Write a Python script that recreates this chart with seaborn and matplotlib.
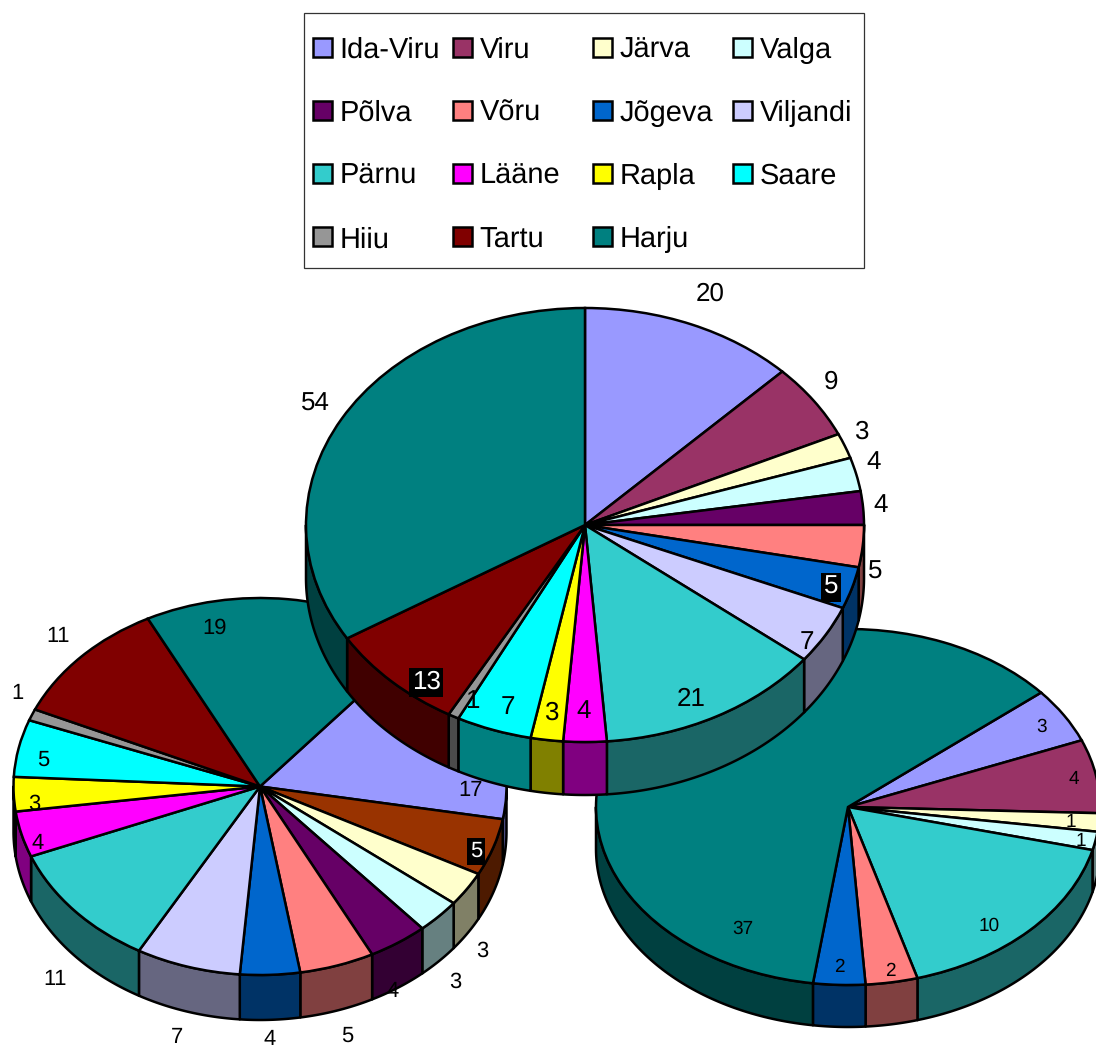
import matplotlib
matplotlib.use("Agg")
import matplotlib.pyplot as plt
from matplotlib.patches import Rectangle
import seaborn as sns
import numpy as np

sns.set_theme(style="white")
plt.rcParams["font.family"] = ["Liberation Sans", "DejaVu Sans"]
plt.rcParams["text.hinting"] = "no_hinting"
plt.rcParams["text.hinting_factor"] = 1

W, H = 1096, 1050

# legend
legend_names = ["Ida-Viru", "Viru", "Järva", "Valga",
                "Põlva", "Võru", "Jõgeva", "Viljandi",
                "Pärnu", "Lääne", "Rapla", "Saare",
                "Hiiu", "Tartu", "Harju"]
legend_colors = ["#9999ff", "#993366", "#ffffcc", "#ccffff",
                 "#660066", "#ff8080", "#0066cc", "#ccccff",
                 "#33cccc", "#ff00ff", "#ffff00", "#00ffff",
                 "#969696", "#800000", "#008080"]
color_of = dict(zip(legend_names, legend_colors))

# top pie
top_names = legend_names
top_values = [20, 9, 3, 4, 4, 5, 5, 7, 21, 4, 3, 7, 1, 13, 54]
top_label_xy = [(710, 293), (831, 381), (861, 431), (874, 461), (881, 504),
                (875, 571), (831, 586), (807, 641), (691, 698), (584, 710),
                (551, 712), (508, 706), (472, 700), (426, 681), (315, 403)]

# left pie
left_names = legend_names
left_values = [17, 5, 3, 3, 4, 5, 4, 7, 11, 4, 3, 5, 1, 11, 19]
left_label_xy = [(471, 789), (476, 850), (482, 950), (455, 981), (393, 990),
                 (347, 1035), (270, 1038), (177, 1036), (55, 978), (38, 842),
                 (34, 803), (43, 759), (17, 692), (58, 635), (215, 627)]

# right pie
right_names = ["Ida-Viru", "Viru", "Järva", "Valga", "Pärnu", "Võru", "Jõgeva", "Harju"]
right_values = [3, 4, 1, 1, 10, 2, 2, 37]
right_label_xy = [(1042, 725), (1074, 778), (1071, 821), (1081, 840),
                  (989, 924), (890, 970), (839, 966), (743, 927)]

fig = plt.figure(figsize=(W / 100, H / 100), dpi=100, facecolor="white")


def pie3d(names, values, cx, cy, rx, ry, depth, start, z, override=None):
    # one axes per pie, squashed so that the circle becomes the ellipse
    colors = [color_of[n] for n in names]
    if override:
        colors = [override.get(n, c) for n, c in zip(names, colors)]
    ax = fig.add_axes([(cx - rx) / W, 1 - (cy + ry + depth) / H,
                       2 * rx / W, (2 * ry + depth) / H], zorder=z)
    d = depth / ry

    # side wall, only the front half shows
    edges = start - np.cumsum([0] + values) / sum(values) * 360
    for i, c in enumerate(colors):
        a0, a1 = edges[i], edges[i + 1]
        # clip to the lower half of the ellipse, checking both windows
        for lo, hi in [(-180, 0), (-540, -360)]:
            s, e = min(a0, hi), max(a1, lo)
            if s <= e:
                continue
            t = np.radians(np.linspace(s, e, 80))
            xs = np.r_[np.cos(t), np.cos(t[::-1])]
            ys = np.r_[np.sin(t), np.sin(t[::-1]) - d]
            dark = tuple(0.5 * v for v in matplotlib.colors.to_rgb(c))
            ax.fill(xs, ys, facecolor=dark, edgecolor="black", lw=1.8, joinstyle="round")

    ax.pie(values, colors=colors, startangle=start, counterclock=False, radius=1,
           wedgeprops={"edgecolor": "black", "linewidth": 1.8})
    ax.set_aspect("auto")
    ax.set_xlim(-1, 1)
    ax.set_ylim(-1 - d, 1)
    ax.axis("off")
    for p in ax.patches:
        p.set_clip_on(False)
    return ax


pie3d(left_names, left_values, 260, 786.5, 246.5, 188.5, 45, 50, 1, {"Viru": "#993300"})
pie3d(right_names, right_values, 848, 807, 252, 178, 42, 40, 2)
pie3d(top_names, top_values, 585, 525, 279, 217, 53, 90, 3)

# overlay in pixels for the legend box and the value labels
ov = fig.add_axes([0, 0, 1, 1], zorder=10)
ov.set_xlim(0, W)
ov.set_ylim(H, 0)
ov.axis("off")
ov.patch.set_alpha(0)

ov.add_patch(Rectangle((304, 13), 560, 255, fc="white", ec="#333333", lw=0.9))
for i, (name, c) in enumerate(zip(legend_names, legend_colors)):
    col, row = i % 4, i // 4
    x = 313 + 140 * col
    y = 47 + 63.3 * row
    ov.add_patch(Rectangle((x, y - 9.5), 19, 19, fc=c, ec="black", lw=1.8))
    ov.text(x + 26.5, y + 10.5, name, fontsize=21, color="black", ha="left", va="baseline")


def labels(values, xy, size, boxed=()):
    for i, (v, (x, y)) in enumerate(zip(values, xy)):
        if i in boxed:
            ov.text(x, y + 1.5, str(v), fontsize=size, color="white", ha="center", va="center",
                    bbox=dict(facecolor="black", edgecolor="none", pad=2))
        else:
            ov.text(x, y + 1.5, str(v), fontsize=size, color="black", ha="center", va="center")


labels(left_values, left_label_xy, 15.5, boxed=(1,))
labels(right_values, right_label_xy, 14)
labels(top_values, top_label_xy, 18.5, boxed=(6, 13))

fig.savefig("out.png", dpi=100)
plt.close(fig)
